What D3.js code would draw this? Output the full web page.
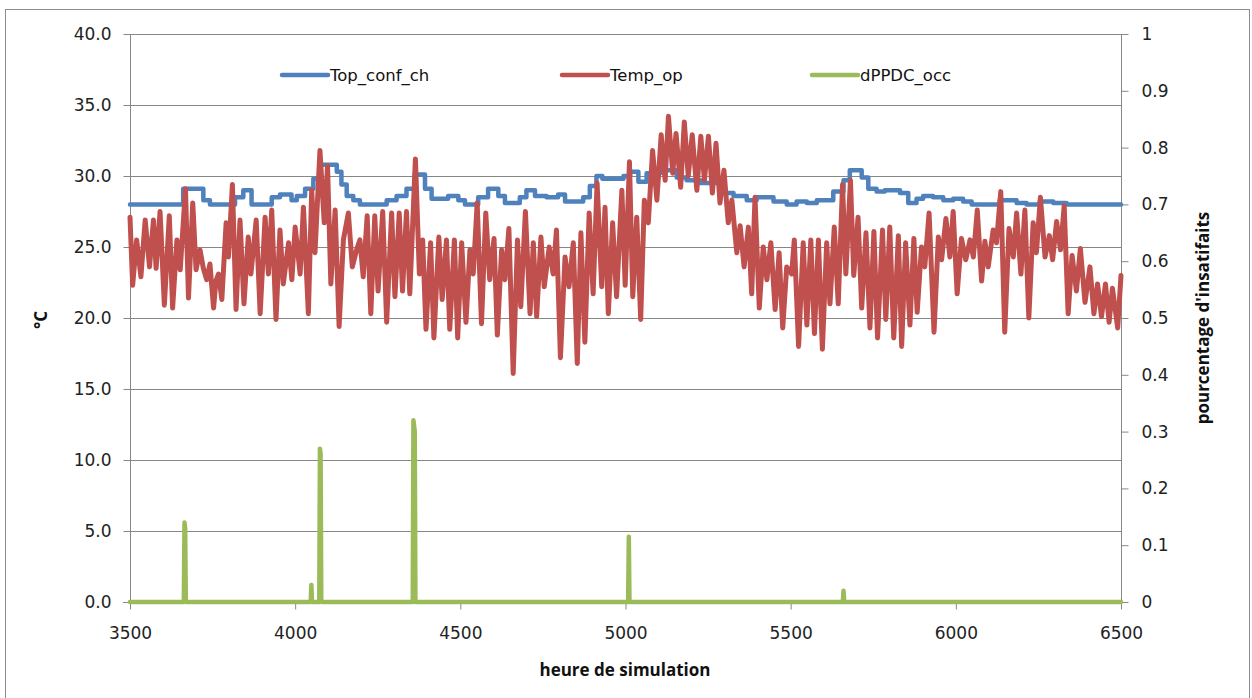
<!DOCTYPE html>
<html>
<head>
<meta charset="utf-8">
<script src="https://cdn.jsdelivr.net/npm/d3@7"></script>
<style>
  body { margin: 0; background: #fff; }
  .tick-label { font-family: "DejaVu Sans", Verdana, sans-serif; font-size: 17px; fill: #222; }
  .axis-title { font-family: "Open Sans", sans-serif; font-weight: bold; font-size: 17px; fill: #111; }
  .legend-label { font-family: "DejaVu Sans", Verdana, sans-serif; font-size: 16.5px; fill: #111; }
</style>
</head>
<body>
<svg id="chart" width="1252" height="698"></svg>
<script>
// Top_conf_ch: step changes (hour where the level starts, level in °C)
const topConfHours = [3500, 3661, 3722, 3742, 3818, 3843, 3868, 3929, 3954, 3989, 4005, 4030, 4055, 4075,
  4126, 4140, 4156, 4176, 4196, 4277, 4307, 4337, 4362, 4393, 4413, 4463, 4494, 4514, 4554, 4584, 4615,
  4635, 4680, 4700, 4726, 4761, 4796, 4817, 4872, 4892, 4912, 4930, 4994, 5014, 5039, 5064, 5105, 5155,
  5185, 5226, 5300, 5327, 5367, 5397, 5448, 5488, 5518, 5549, 5579, 5629, 5660, 5679, 5715, 5735, 5760,
  5785, 5831, 5856, 5881, 5901, 5931, 5962, 5992, 6022, 6048, 6133, 6184, 6214, 6254, 6295, 6335, 6500];
const topConfValues = [28.0, 29.1, 28.3, 28.0, 28.5, 29.0, 28.0, 28.5, 28.7, 28.3, 28.6, 29.1, 29.8, 30.8,
  30.3, 29.4, 28.6, 28.3, 28.0, 28.3, 28.6, 29.1, 30.1, 29.1, 28.4, 28.6, 28.3, 28.0, 28.5, 29.1, 28.6,
  28.1, 28.5, 29.0, 28.6, 28.5, 28.7, 28.2, 28.5, 29.3, 30.0, 29.8, 30.0, 30.3, 29.6, 30.2, 30.4, 29.9,
  29.7, 29.5, 28.8, 28.6, 28.3, 28.5, 28.2, 28.0, 28.2, 28.1, 28.3, 28.9, 29.7, 30.4, 29.9, 29.1, 28.9,
  29.0, 28.8, 28.1, 28.4, 28.6, 28.5, 28.3, 28.4, 28.2, 28.0, 28.3, 28.1, 28.0, 28.2, 28.1, 28.0, 28.0];

// Temp_op: daily highs and lows
const tempHours = [3500, 3508, 3520, 3533, 3546, 3559, 3571, 3579, 3591, 3604, 3619, 3629, 3642, 3652, 3668,
  3677, 3690, 3700, 3712, 3722, 3732, 3742, 3753, 3760, 3768, 3778, 3791, 3798, 3810, 3821, 3833, 3845, 3858, 3866, 3882,
  3894, 3909, 3919, 3929, 3942, 3954, 3964, 3980, 3990, 4000, 4015, 4025, 4040, 4050, 4060, 4075, 4088,
  4098, 4108, 4121, 4133, 4146, 4161, 4173, 4186, 4196, 4206, 4218, 4229, 4241, 4251, 4265, 4277, 4292,
  4302, 4315, 4325, 4337, 4347, 4364, 4376, 4386, 4396, 4410, 4420, 4435, 4445, 4458, 4468, 4482, 4492,
  4504, 4517, 4529, 4539, 4551, 4564, 4577, 4589, 4602, 4612, 4625, 4635, 4647, 4660, 4673, 4683, 4697,
  4711, 4721, 4731, 4744, 4754, 4769, 4781, 4791, 4803, 4817, 4829, 4842, 4854, 4865, 4877, 4890, 4902,
  4914, 4928, 4938, 4948, 4961, 4973, 4989, 4999, 5012, 5022, 5034, 5046, 5057, 5069, 5082, 5095, 5108,
  5120, 5130, 5143, 5153, 5167, 5178, 5190, 5202, 5216, 5228, 5239, 5251, 5263, 5274, 5286, 5298, 5311,
  5322, 5337, 5347, 5359, 5372, 5382, 5392, 5405, 5417, 5428, 5440, 5453, 5465, 5476, 5488, 5503, 5511,
  5524, 5538, 5549, 5561, 5572, 5584, 5596, 5609, 5619, 5632, 5644, 5657, 5667, 5681, 5691, 5704, 5715,
  5728, 5740, 5752, 5763, 5778, 5788, 5800, 5812, 5826, 5836, 5848, 5861, 5873, 5883, 5896, 5906, 5919,
  5934, 5947, 5957, 5970, 5982, 5992, 6004, 6017, 6030, 6043, 6053, 6065, 6078, 6088, 6098, 6113, 6123,
  6136, 6148, 6161, 6174, 6184, 6197, 6209, 6221, 6234, 6244, 6256, 6270, 6283, 6293, 6305, 6317, 6328,
  6340, 6352, 6365, 6377, 6391, 6406, 6418, 6429, 6441, 6453, 6464, 6474, 6490, 6500];
const tempValues = [27.1, 22.3, 25.5, 22.9, 26.9, 23.6, 26.9, 23.5, 27.5, 20.9, 27.2, 20.7, 25.5, 23.4, 29.1,
  21.4, 28.1, 23.4, 24.8, 23.5, 22.7, 23.8, 20.7, 22.6, 23.1, 21.3, 26.7, 24.3, 29.4, 20.6, 26.9, 21.0, 25.7, 23.1, 26.9,
  20.3, 27.1, 23.1, 27.6, 19.9, 26.2, 22.4, 25.3, 22.7, 26.4, 23.1, 27.8, 20.3, 29.0, 24.6, 31.8, 26.7,
  30.7, 22.4, 27.6, 19.4, 25.5, 27.4, 23.6, 24.8, 25.5, 22.9, 27.2, 20.3, 27.2, 21.9, 27.5, 19.7, 27.4,
  21.5, 27.4, 21.9, 27.5, 21.7, 31.2, 23.1, 25.5, 19.2, 25.3, 18.6, 25.7, 21.3, 25.5, 19.2, 25.5, 18.6,
  25.3, 19.7, 24.8, 23.1, 28.1, 19.6, 27.4, 22.7, 25.6, 18.8, 24.8, 22.7, 26.3, 16.1, 25.5, 20.8, 27.5,
  20.3, 25.3, 20.1, 25.7, 22.2, 25.0, 23.1, 26.2, 17.2, 24.3, 22.2, 25.3, 16.8, 26.0, 18.3, 27.4, 21.7,
  29.5, 22.2, 27.8, 20.3, 26.7, 21.5, 29.0, 22.3, 31.0, 21.5, 27.1, 19.9, 28.3, 26.7, 31.8, 28.3, 32.9,
  29.7, 34.2, 30.2, 33.0, 29.2, 33.8, 30.0, 32.9, 29.0, 32.8, 29.7, 32.8, 28.8, 32.3, 28.1, 30.4, 26.7,
  28.3, 24.6, 26.5, 23.6, 26.4, 21.7, 28.5, 20.7, 25.0, 22.7, 25.3, 20.6, 24.6, 19.3, 23.6, 23.1, 25.5,
  18.0, 25.3, 19.5, 25.5, 18.9, 25.5, 17.8, 25.3, 21.0, 26.4, 21.0, 29.4, 23.1, 29.7, 23.0, 27.1, 20.7,
  26.0, 19.3, 26.1, 18.6, 26.2, 19.9, 26.4, 18.6, 25.8, 18.0, 25.3, 19.5, 25.6, 20.4, 25.0, 23.6, 27.4,
  19.0, 25.7, 24.1, 27.0, 24.3, 27.5, 21.7, 25.6, 24.1, 25.5, 24.3, 27.6, 22.6, 25.4, 23.6, 26.2, 25.3,
  28.9, 19.0, 26.3, 24.3, 27.4, 23.1, 27.6, 20.0, 26.7, 24.6, 28.5, 24.3, 25.8, 24.1, 26.8, 24.8, 27.9,
  20.3, 24.4, 21.9, 24.9, 21.1, 23.6, 20.3, 22.4, 20.1, 22.4, 19.7, 22.1, 19.3, 23.0];

// dPPDC_occ (right axis): zero except a few short spikes
const ppdHours = [3500, 3663, 3665, 3667, 3669, 4047, 4049, 4051, 4073, 4075, 4077, 4079,
  4356, 4358, 4360, 4362, 4364, 5008, 5010, 5012, 5658, 5660, 5662, 6500];
const ppdValues = [0, 0, 0.14, 0.13, 0, 0, 0.03, 0, 0, 0.27, 0.26, 0,
  0, 0.32, 0.31, 0.30, 0, 0, 0.115, 0, 0, 0.02, 0, 0];

const xTicks = [3500, 4000, 4500, 5000, 5500, 6000, 6500];
const yLeftTicks = [0, 5, 10, 15, 20, 25, 30, 35, 40];
const yRightTicks = [0, 0.1, 0.2, 0.3, 0.4, 0.5, 0.6, 0.7, 0.8, 0.9, 1];

const seriesNames = ['Top_conf_ch', 'Temp_op', 'dPPDC_occ'];
const seriesColors = ['#4f81bd', '#c0504d', '#9bbb59'];
const seriesWidths = [4.5, 5, 4.5];

const svg = d3.select('#chart');
const plot = { left: 130, right: 1121, top: 34, bottom: 602 };
const gridColor = '#878787';

const x = d3.scaleLinear().domain([3500, 6500]).range([plot.left, plot.right]);
const yL = d3.scaleLinear().domain([0, 40]).range([plot.bottom, plot.top]);
const yR = d3.scaleLinear().domain([0, 1]).range([plot.bottom, plot.top]);

// chart area border
svg.append('rect')
  .attr('x', 5.5).attr('y', 9.5).attr('width', 1244).attr('height', 700)
  .attr('fill', 'none').attr('stroke', '#8c8c8c').attr('stroke-width', 1);

// horizontal gridlines
svg.append('g')
  .selectAll('line')
  .data(yLeftTicks.filter(d => d > 0))
  .join('line')
  .attr('x1', plot.left).attr('x2', plot.right)
  .attr('y1', d => Math.round(yL(d)) + 0.5).attr('y2', d => Math.round(yL(d)) + 0.5)
  .attr('stroke', gridColor);

// axes (ticks + labels), the axis lines are drawn separately below
const axisLeft = svg.append('g')
  .attr('transform', `translate(${plot.left + 0.5},0)`)
  .call(d3.axisLeft(yL).tickValues(yLeftTicks).tickFormat(d3.format('.1f')).tickSize(7).tickPadding(12));
const axisRight = svg.append('g')
  .attr('transform', `translate(${plot.right + 0.5},0)`)
  .call(d3.axisRight(yR).tickValues(yRightTicks).tickFormat(d => d3.format('')(+d.toFixed(1))).tickSize(7).tickPadding(13));
const axisBottom = svg.append('g')
  .attr('transform', `translate(0,${plot.bottom + 0.5})`)
  .call(d3.axisBottom(x).tickValues(xTicks).tickFormat(d3.format('d')).tickSize(7).tickPadding(17));

[axisLeft, axisRight, axisBottom].forEach(a => {
  a.select('.domain').remove();
  a.selectAll('.tick line').attr('stroke', gridColor);
  a.selectAll('.tick text').attr('class', 'tick-label').attr('fill', null);
});
svg.append('line').attr('x1', plot.left + 0.5).attr('x2', plot.left + 0.5)
  .attr('y1', plot.top).attr('y2', plot.bottom + 7).attr('stroke', gridColor);
svg.append('line').attr('x1', plot.right + 0.5).attr('x2', plot.right + 0.5)
  .attr('y1', plot.top).attr('y2', plot.bottom + 7).attr('stroke', gridColor);
svg.append('line').attr('x1', plot.left - 7).attr('x2', plot.right + 7)
  .attr('y1', plot.bottom + 0.5).attr('y2', plot.bottom + 0.5).attr('stroke', gridColor);

// series
const topConf = topConfHours.map((h, i) => [h, topConfValues[i]]);
const temp = tempHours.map((h, i) => [h, tempValues[i]]);
const ppd = ppdHours.map((h, i) => [h, ppdValues[i]]);

const lineStep = d3.line().x(d => x(d[0])).y(d => yL(d[1])).curve(d3.curveStepAfter);
const lineTemp = d3.line().x(d => x(d[0])).y(d => yL(d[1]));
const linePpd = d3.line().x(d => x(d[0])).y(d => yR(d[1]));

const lines = svg.append('g').attr('fill', 'none')
  .attr('stroke-linejoin', 'round').attr('stroke-linecap', 'round');
lines.append('path').attr('d', lineStep(topConf)).attr('stroke', seriesColors[0]).attr('stroke-width', seriesWidths[0]);
lines.append('path').attr('d', lineTemp(temp)).attr('stroke', seriesColors[1]).attr('stroke-width', seriesWidths[1]);
lines.append('path').attr('d', linePpd(ppd)).attr('stroke', seriesColors[2]).attr('stroke-width', seriesWidths[2]);

// legend
const legendX = [282, 562, 812];
const legend = svg.append('g').selectAll('g')
  .data(seriesNames)
  .join('g')
  .attr('transform', (d, i) => `translate(${legendX[i]},75)`);
legend.append('line')
  .attr('x1', 0).attr('x2', 46)
  .attr('stroke', (d, i) => seriesColors[i]).attr('stroke-width', 4.5).attr('stroke-linecap', 'round');
legend.append('text')
  .attr('class', 'legend-label')
  .attr('x', 48).attr('y', 6)
  .text(d => d);

// axis titles
svg.append('text').attr('class', 'axis-title')
  .attr('transform', 'translate(47,320) rotate(-90)')
  .attr('text-anchor', 'middle').text('°C');
svg.append('text').attr('class', 'axis-title')
  .attr('transform', 'translate(1209,318) rotate(-90)')
  .attr('text-anchor', 'middle').text("pourcentage d'insatifaits");
svg.append('text').attr('class', 'axis-title')
  .attr('x', 625).attr('y', 676)
  .attr('text-anchor', 'middle').text('heure de simulation');
</script>
</body>
</html>
